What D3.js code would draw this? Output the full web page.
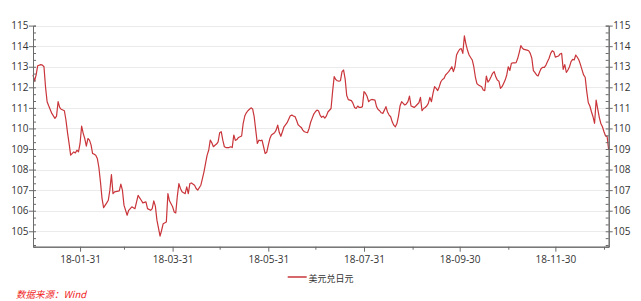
<!DOCTYPE html>
<html><head><meta charset="utf-8">
<script src="https://cdn.jsdelivr.net/npm/d3@7"></script>
<style>
body{margin:0;background:#fff;}
svg text{font-family:"Open Sans","Noto Sans",sans-serif;}
</style></head><body>
<svg id="c" width="641" height="301"></svg>
<script>
// days since 2018-01-01
const dayOffsets = [
0,1,2,3,5,6,7,8,9,10,12,14,15,16,17,18,20,21,22,23,24,26,27,28,29,30,31,32,33,34,35,36,37,38,39,40,41,42,43,44,45,47,48,49,50,51,52,55,56,57,58,60,61,63,65,67,68,69,70,72,73,75,76,77,78,79,81,82,83,85,86,87,89,90,
91,92,93,94,95,96,97,98,99,100,101,103,104,105,107,108,109,110,111,112,113,114,115,116,117,118,119,120,121,122,123,125,126,127,128,129,130,131,133,134,135,136,137,138,139,140,141,142,143,144,145,146,147,148,149,150,151,152,154,155,156,157,158,159,160,162,163,164,165,166,167,168,169,170,171,172,173,175,176,177,178,179,180,181,182,183,184,
185,186,187,188,190,191,192,193,194,195,196,197,198,199,200,201,203,204,205,206,207,208,209,210,211,212,213,214,215,216,218,219,220,221,222,223,224,225,226,227,228,229,230,231,232,233,234,235,236,237,238,239,240,241,242,243,244,246,247,248,249,250,251,252,253,254,255,256,257,258,259,260,261,262,263,264,265,266,267,268,269,270,271,272,273,274,275,276,277,
278,280,281,282,283,284,286,287,288,289,290,291,292,293,294,295,296,297,298,299,300,301,302,303,304,305,306,307,308,309,310,311,312,313,315,316,317,318,319,320,321,322,323,324,325,326,327,328,329,330,331,332,333,335,336,337,338,339,340,341,342,343,344,345,346,347,348,349,350,351,352,353,354,355,356,357,358,359,360,361,362,363,364,365,366,367
];
const usdJpy = [
112.60,112.30,112.60,113.05,113.10,113.08,113.00,112.00,111.30,111.10,110.73,110.49,110.60,111.30,111.02,110.93,110.86,110.41,109.80,109.27,108.70,108.86,108.81,108.94,108.86,109.27,110.11,109.76,109.51,109.14,109.51,109.43,109.20,108.78,108.75,108.70,108.54,108.10,107.40,106.60,106.15,106.38,106.51,107.00,107.76,106.83,106.92,106.96,107.29,107.00,106.27,105.78,106.02,106.19,106.10,106.75,106.62,106.51,106.38,106.43,106.10,106.02,106.10,106.48,106.22,105.54,104.76,105.05,105.37,105.45,106.83,106.48,106.19,105.94,
105.89,106.70,107.32,107.08,106.92,106.87,106.83,107.16,106.83,107.32,107.35,107.24,107.08,107.00,107.24,107.56,107.89,108.30,108.70,108.94,109.43,109.30,109.11,109.18,109.24,109.35,109.79,109.84,109.43,109.11,109.07,109.07,109.11,109.07,109.68,109.42,109.46,109.56,109.63,110.25,110.60,110.76,110.86,110.93,111.00,110.95,110.57,109.92,109.27,109.43,109.40,109.43,109.11,108.78,108.84,109.19,109.51,109.68,109.79,109.92,110.16,109.80,109.62,109.84,110.08,110.28,110.45,110.62,110.65,110.60,110.58,110.40,110.18,110.11,110.05,109.92,109.84,109.79,110.00,110.30,110.50,110.70,110.81,110.89,110.86,110.65,110.54,
110.60,110.50,110.60,110.80,110.97,111.80,112.52,112.38,112.32,112.30,112.32,112.76,112.84,112.40,111.60,111.40,111.35,111.22,111.02,110.97,111.09,111.02,111.02,111.06,111.79,111.70,111.55,111.30,111.38,111.41,111.38,111.06,110.92,110.86,110.76,110.73,110.89,111.06,110.80,110.65,110.57,110.32,110.16,110.08,110.24,110.60,111.10,111.30,111.22,111.14,111.19,111.30,111.57,111.09,111.06,111.02,111.09,111.25,111.51,110.86,110.97,111.02,111.09,111.22,111.51,111.30,111.71,112.03,111.95,111.84,112.03,112.27,112.38,112.43,112.60,112.68,112.76,112.88,113.00,112.76,113.00,113.57,113.73,113.85,113.88,113.65,114.50,114.10,113.80,
113.57,113.33,113.00,112.50,112.18,112.11,112.03,111.87,111.84,112.55,112.25,112.35,112.51,112.68,112.76,112.51,112.35,112.30,111.95,112.03,112.19,112.35,112.60,113.00,112.82,113.17,113.19,113.19,113.20,113.41,113.70,114.03,113.90,113.84,113.81,113.78,113.65,113.41,112.81,112.71,112.60,112.55,112.76,112.92,112.97,112.97,113.08,113.25,113.41,113.65,113.78,113.73,113.47,113.52,113.62,113.65,112.87,113.10,112.72,112.84,113.00,113.25,113.36,113.33,113.57,113.46,113.33,113.10,112.85,112.60,112.49,111.80,111.25,111.09,110.81,110.57,110.25,111.38,110.95,110.54,110.24,110.08,109.84,109.63,109.60,108.95
];
const yTickValues = [105,106,107,108,109,110,111,112,113,114,115];
const xLabelDates = ["2018-01-31","2018-03-31","2018-05-31","2018-07-31","2018-09-30","2018-11-30"];
const xMinorDates = ["2018-02-28","2018-04-30","2018-06-30","2018-08-31","2018-10-31","2018-12-31"];
const seriesName = "美元兑日元";
const sourceText = "数据来源：Wind";

const parse = d3.utcParse("%Y-%m-%d");
const start = parse("2018-01-01");
const data = dayOffsets.map((d,i)=>({date:d3.utcDay.offset(start,d), v:usdJpy[i]}));

const L=33, R=608.7, T=25.6, B=246.7;
const x = d3.scaleUtc().domain([start, parse("2019-01-03")]).range([L,R]);
const y = d3.scaleLinear().domain([104.25,115]).range([B,T]);

const svg = d3.select("#c");
const axisColor="#6b6b6b", textColor="#333";

// gridlines
svg.append("g").selectAll("line").data(yTickValues).join("line")
  .attr("x1",L).attr("x2",R).attr("y1",d=>Math.round(y(d))+0.5).attr("y2",d=>Math.round(y(d))+0.5)
  .attr("stroke","#ebebeb").attr("stroke-width",1);

// line
svg.append("path").datum(data)
  .attr("fill","none").attr("stroke","#c9353a").attr("stroke-width",1.2).attr("stroke-linejoin","round")
  .attr("d", d3.line().x(d=>x(d.date)).y(d=>y(d.v)));

const minorY = d3.range(0,33).map(i=>115-i/3).filter(v=>v>=104.25);

function styleAxis(g){
  g.selectAll("path.domain").attr("stroke",axisColor);
  g.selectAll(".tick line").attr("stroke",axisColor);
  g.selectAll("text").attr("fill",textColor).style("font-size","10px");
}
// left axis
svg.append("g").attr("transform",`translate(${L},0)`)
  .call(d3.axisLeft(y).tickValues(minorY).tickSize(-3).tickFormat("")).call(styleAxis);
svg.append("g").attr("transform",`translate(${L},0)`)
  .call(d3.axisLeft(y).tickValues(yTickValues).tickSize(4).tickSizeOuter(0).tickPadding(0.5).tickFormat(d3.format("d"))).call(styleAxis);
// right axis
svg.append("g").attr("transform",`translate(${R},0)`)
  .call(d3.axisRight(y).tickValues(minorY).tickSize(-3).tickFormat("")).call(styleAxis);
svg.append("g").attr("transform",`translate(${R},0)`)
  .call(d3.axisRight(y).tickValues(yTickValues).tickSize(4).tickSizeOuter(0).tickPadding(0.6).tickFormat(d3.format("d"))).call(styleAxis);
// bottom axis
svg.append("g").attr("transform",`translate(0,${B})`)
  .call(d3.axisBottom(x).tickValues(xMinorDates.map(parse)).tickSize(3).tickSizeOuter(0).tickFormat("")).call(styleAxis);
svg.append("g").attr("transform",`translate(0,${B})`)
  .call(d3.axisBottom(x).tickValues(xLabelDates.map(parse)).tickSize(5).tickSizeOuter(0).tickPadding(4.5).tickFormat(d3.utcFormat("%y-%m-%d"))).call(styleAxis);

// legend
const lg = svg.append("g");
lg.append("line").attr("x1",287.7).attr("x2",306.7).attr("y1",277).attr("y2",277)
  .attr("stroke","#c9353a").attr("stroke-width",1.5);
lg.append("text").attr("x",308.5).attr("y",281.5).text(seriesName)
  .attr("fill",textColor).style("font-size","9px").style("font-family",'"Noto Sans CJK SC",sans-serif');

// source
svg.append("text").attr("x",16).attr("y",297.5).text(sourceText)
  .attr("fill","#f01d1d").style("font-size","9.5px").style("font-style","italic")
  .style("font-family",'"Noto Sans CJK SC",sans-serif');
</script>
</body></html>
